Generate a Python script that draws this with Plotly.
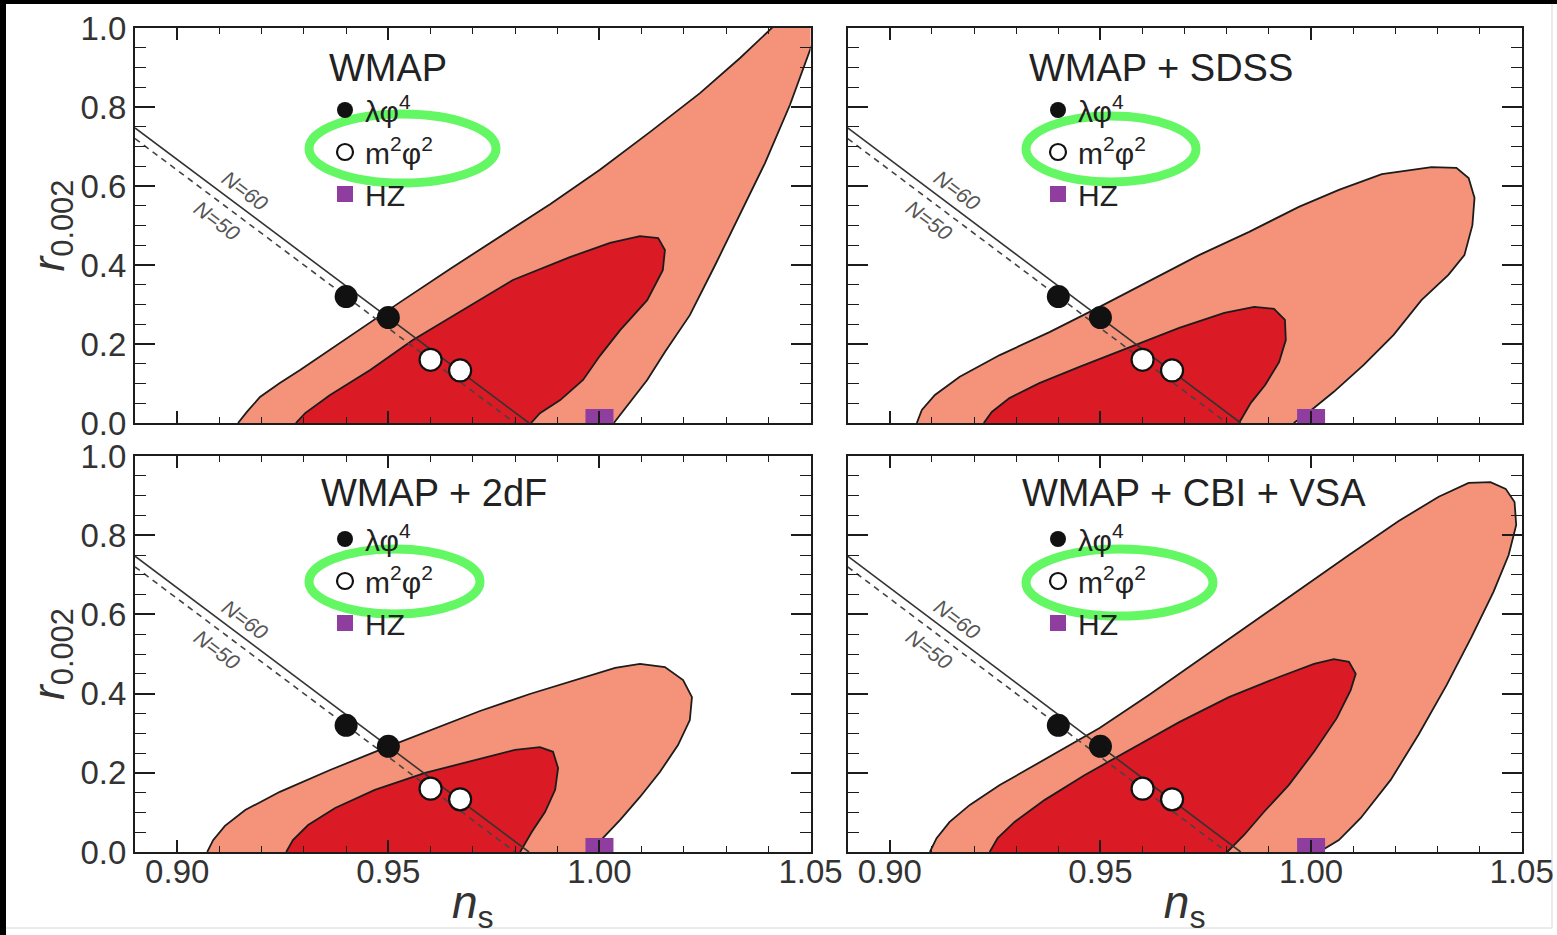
import plotly.graph_objects as go

W, H = 1557, 935

# ---------------- data ----------------
panel_titles = ["WMAP", "WMAP + SDSS", "WMAP + 2dF", "WMAP + CBI + VSA"]

x_tick_vals = [0.90, 0.95, 1.00, 1.05]
x_tick_text = ["0.90", "0.95", "1.00", "1.05"]
y_tick_vals = [0.0, 0.2, 0.4, 0.6, 0.8, 1.0]
y_tick_text = ["0.0", "0.2", "0.4", "0.6", "0.8", "1.0"]

# model predictions (N = 50, N = 60)
lam_ns = [0.940, 0.950]
lam_r = [0.320, 0.267]
m2_ns = [0.960, 0.967]
m2_r = [0.160, 0.133]
hz_ns = [1.000]
hz_r = [0.000]
n60_ns = [0.890, 0.9833]
n60_r = [0.747, 0.000]
n50_ns = [0.890, 0.980]
n50_r = [0.720, 0.000]

# ---- WMAP ----
wmap_95_ns = [0.9144, 0.9165, 0.9196, 0.9243, 0.9291, 0.9409, 0.9528, 0.9646, 0.9764, 0.9883,
              1.0001, 1.0120, 1.0238, 1.0333, 1.0416, 1.0520, 1.0503, 1.0451, 1.0392, 1.0333,
              1.0274, 1.0214, 1.0155, 1.0113, 1.0072, 1.0034]
wmap_95_r = [0.000, 0.028, 0.066, 0.101, 0.134, 0.220, 0.306, 0.390, 0.471, 0.554,
             0.641, 0.737, 0.835, 0.924, 1.008, 1.080, 0.957, 0.805, 0.658, 0.527,
             0.400, 0.273, 0.180, 0.109, 0.053, 0.000]
wmap_68_ns = [0.9281, 0.9303, 0.9362, 0.9457, 0.9558, 0.9670, 0.9795, 0.9930, 1.0025, 1.0096,
              1.0139, 1.0155, 1.0150, 1.0113, 1.0049, 1.0001, 0.9961, 0.9907, 0.9859, 0.9838]
wmap_68_r = [0.000, 0.025, 0.071, 0.134, 0.210, 0.281, 0.362, 0.420, 0.456, 0.473,
             0.468, 0.438, 0.387, 0.311, 0.235, 0.170, 0.109, 0.058, 0.025, 0.000]

# ---- WMAP + SDSS ----
sdss_95_ns = [0.9064, 0.9076, 0.9107, 0.9166, 0.9261, 0.9379, 0.9498, 0.9576, 0.9734, 0.9853,
              0.9971, 1.0066, 1.0168, 1.0286, 1.0345, 1.0374, 1.0388, 1.0383, 1.0364, 1.0326,
              1.0262, 1.0196, 1.0125, 1.0054, 0.9995, 0.9959]
sdss_95_r = [0.000, 0.033, 0.071, 0.117, 0.172, 0.230, 0.294, 0.337, 0.425, 0.484,
             0.547, 0.590, 0.630, 0.648, 0.646, 0.620, 0.570, 0.501, 0.425, 0.375,
             0.311, 0.223, 0.147, 0.079, 0.028, 0.000]
sdss_68_ns = [0.9223, 0.9242, 0.9284, 0.9355, 0.9450, 0.9569, 0.9687, 0.9794, 0.9865, 0.9912,
              0.9938, 0.9940, 0.9924, 0.9891, 0.9857, 0.9829]
sdss_68_r = [0.000, 0.028, 0.063, 0.101, 0.142, 0.192, 0.241, 0.279, 0.294, 0.289,
             0.261, 0.210, 0.154, 0.096, 0.051, 0.000]

# ---- WMAP + 2dF ----
twodf_95_ns = [0.9071, 0.9085, 0.9113, 0.9161, 0.9243, 0.9362, 0.9480, 0.9599, 0.9717, 0.9835,
               0.9954, 1.0037, 1.0096, 1.0155, 1.0198, 1.0219, 1.0214, 1.0186, 1.0143, 1.0096,
               1.0049, 1.0008, 0.9982]
twodf_95_r = [0.000, 0.030, 0.066, 0.106, 0.152, 0.207, 0.258, 0.308, 0.356, 0.399,
              0.439, 0.465, 0.475, 0.467, 0.434, 0.391, 0.333, 0.270, 0.202, 0.139,
              0.081, 0.035, 0.000]
twodf_68_ns = [0.9258, 0.9274, 0.9310, 0.9374, 0.9468, 0.9587, 0.9705, 0.9800, 0.9859, 0.9890,
               0.9902, 0.9895, 0.9871, 0.9840, 0.9812]
twodf_68_r = [0.000, 0.030, 0.068, 0.111, 0.157, 0.200, 0.232, 0.258, 0.265, 0.253,
              0.212, 0.157, 0.101, 0.051, 0.000]

# ---- WMAP + CBI + VSA ----
cbi_95_ns = [0.9095, 0.9111, 0.9142, 0.9190, 0.9261, 0.9379, 0.9498, 0.9616, 0.9734, 0.9853,
             0.9971, 1.0090, 1.0208, 1.0303, 1.0374, 1.0426, 1.0462, 1.0483, 1.0487, 1.0469,
             1.0433, 1.0381, 1.0322, 1.0255, 1.0189, 1.0118, 1.0066, 1.0019]
cbi_95_r = [0.000, 0.035, 0.076, 0.119, 0.169, 0.240, 0.313, 0.397, 0.485, 0.573,
            0.662, 0.750, 0.836, 0.897, 0.932, 0.934, 0.917, 0.884, 0.826, 0.750,
            0.657, 0.543, 0.422, 0.296, 0.182, 0.086, 0.030, 0.000]
cbi_68_ns = [0.9237, 0.9256, 0.9296, 0.9367, 0.9462, 0.9569, 0.9687, 0.9805, 0.9924, 1.0007,
             1.0054, 1.0090, 1.0106, 1.0094, 1.0061, 1.0007, 0.9947, 0.9888, 0.9841, 0.9801]
cbi_68_r = [0.000, 0.035, 0.076, 0.131, 0.194, 0.258, 0.328, 0.391, 0.442, 0.475,
            0.487, 0.480, 0.450, 0.409, 0.338, 0.253, 0.169, 0.101, 0.043, 0.000]

contours_95 = [(wmap_95_ns, wmap_95_r), (sdss_95_ns, sdss_95_r),
               (twodf_95_ns, twodf_95_r), (cbi_95_ns, cbi_95_r)]
contours_68 = [(wmap_68_ns, wmap_68_r), (sdss_68_ns, sdss_68_r),
               (twodf_68_ns, twodf_68_r), (cbi_68_ns, cbi_68_r)]

# ---------------- styling ----------------
FONT = "Liberation Sans, Arial, Helvetica, sans-serif"
C95 = "#F4937A"
C68 = "#DA1A24"
PURPLE = "#8F3E9F"
GREEN = "#63F763"
INK = "#1c1c1c"


def pxx(p):
    return p / W


def pxy(p):
    return 1 - p / H


# panel pixel boxes: (left, right, top, bottom)
boxes = [(135, 810.6, 28, 423), (847.7, 1521.7, 28, 423),
         (135, 810.6, 456, 852), (847.7, 1521.7, 456, 852)]

fig = go.Figure()

for i in range(4):
    k = "" if i == 0 else str(i + 1)
    xa, ya = "x" + k, "y" + k
    leg = "legend" + k
    ns95, r95 = contours_95[i]
    ns68, r68 = contours_68[i]
    fig.add_trace(go.Scatter(x=ns95, y=r95, mode="lines", fill="toself", fillcolor=C95,
                             line=dict(color=INK, width=1.8), xaxis=xa, yaxis=ya,
                             showlegend=False, hoverinfo="skip"))
    fig.add_trace(go.Scatter(x=ns68, y=r68, mode="lines", fill="toself", fillcolor=C68,
                             line=dict(color=INK, width=1.8), xaxis=xa, yaxis=ya,
                             showlegend=False, hoverinfo="skip"))
    fig.add_trace(go.Scatter(x=n60_ns, y=n60_r, mode="lines", line=dict(color="#333", width=1.6),
                             xaxis=xa, yaxis=ya, showlegend=False))
    fig.add_trace(go.Scatter(x=n50_ns, y=n50_r, mode="lines",
                             line=dict(color="#444", width=1.6, dash="6px,5px"),
                             xaxis=xa, yaxis=ya, showlegend=False))
    fig.add_trace(go.Scatter(x=lam_ns, y=lam_r, mode="markers", name="λφ<sup>4</sup>",
                             marker=dict(size=23, color="#111", line=dict(width=0)),
                             xaxis=xa, yaxis=ya, legend=leg, legendrank=1))
    fig.add_trace(go.Scatter(x=m2_ns, y=m2_r, mode="markers", name="m<sup>2</sup>φ<sup>2</sup>",
                             marker=dict(size=22, color="white", line=dict(width=2.2, color="#111")),
                             xaxis=xa, yaxis=ya, legend=leg, legendrank=2))
    fig.add_trace(go.Scatter(x=hz_ns, y=hz_r, mode="markers", name="HZ", cliponaxis=True,
                             marker=dict(size=28, symbol="square", color=PURPLE, line=dict(width=0)),
                             xaxis=xa, yaxis=ya, legend=leg, legendrank=3))

axis_common = dict(showline=True, linecolor=INK, linewidth=2, mirror="allticks",
                   ticks="inside", tickcolor=INK, showgrid=False, zeroline=False,
                   automargin=False,
                   tickfont=dict(family=FONT, size=33, color="#333"))

layout = dict(template="none", width=W, height=H, margin=dict(l=0, r=0, t=0, b=0, pad=0),
              autosize=False,
              paper_bgcolor="white", plot_bgcolor="white",
              font=dict(family=FONT, color="#222"))

for i, (l, r, t, b) in enumerate(boxes):
    k = "" if i == 0 else str(i + 1)
    bottom_row = i >= 2
    left_col = i % 2 == 0
    xax = dict(axis_common, domain=[pxx(l), pxx(r)], range=[0.89, 1.05], anchor="y" + k,
               tickmode="array", tickvals=x_tick_vals, ticktext=x_tick_text,
               ticklen=12, tickwidth=1.6, showticklabels=bottom_row, ticklabelstandoff=-11,
               minor=dict(tickmode="linear", tick0=0.9, dtick=0.01, ticks="inside", ticklen=6,
                          tickwidth=1.3, tickcolor=INK, showgrid=False))
    if bottom_row:
        xax["title"] = dict(text="<i>n</i><sub>s</sub>", font=dict(family=FONT, size=46, color="#333"),
                            standoff=0)
    yax = dict(axis_common, domain=[pxy(b), pxy(t)], range=[0, 1], anchor="x" + k,
               tickmode="array", tickvals=y_tick_vals, ticktext=y_tick_text,
               ticklen=20, tickwidth=1.6, showticklabels=left_col,
               minor=dict(tickmode="linear", tick0=0, dtick=0.05, ticks="inside", ticklen=11,
                          tickwidth=1.3, tickcolor=INK, showgrid=False))
    if left_col:
        yax["title"] = dict(text="<i>r</i><sub>0.002</sub>", font=dict(family=FONT, size=44, color="#333"),
                            standoff=2)
    layout["xaxis" + k] = xax
    layout["yaxis" + k] = yax

# legends inside each panel
legend_pos = [(325, 84), (1038, 84), (325, 513), (1038, 513)]
for i, (lx, ly) in enumerate(legend_pos):
    k = "" if i == 0 else str(i + 1)
    layout["legend" + k] = dict(x=pxx(lx), y=pxy(ly), xanchor="left", yanchor="top",
                                bgcolor="rgba(0,0,0,0)", borderwidth=0,
                                font=dict(family=FONT, size=30, color="#222"),
                                traceorder="normal", tracegroupgap=0)

fig.update_layout(**layout)

# panel titles
title_pos = [(388, 68), (1161, 68), (434, 493), (1194, 493)]
for txt, (tx, ty) in zip(panel_titles, title_pos):
    fig.add_annotation(x=pxx(tx), y=pxy(ty), xref="paper", yref="paper", text=txt,
                       showarrow=False, xanchor="center", yanchor="middle",
                       font=dict(family=FONT, size=38, color="#222"))

# N=60 / N=50 labels along the lines
for dx, dy in [(0, 0), (712.7, 0), (0, 429), (712.7, 429)]:
    for txt, (tx, ty) in [("N=60", (245, 190)), ("N=50", (217, 220))]:
        fig.add_annotation(x=pxx(tx + dx), y=pxy(ty + dy), xref="paper", yref="paper",
                           text="<i>" + txt + "</i>", showarrow=False, textangle=36.8,
                           xanchor="center", yanchor="middle",
                           font=dict(family=FONT, size=21, color="#555"))

# green highlight ellipses
for (x0, x1, y0, y1) in [(309, 496, 114, 183), (1026, 1196, 116, 182),
                         (309, 480, 549, 614), (1026, 1213, 549, 616)]:
    fig.add_shape(type="circle", xref="paper", yref="paper",
                  x0=pxx(x0), x1=pxx(x1), y0=pxy(y1), y1=pxy(y0),
                  line=dict(color=GREEN, width=9), fillcolor="rgba(0,0,0,0)", layer="above")

# frame of the screenshot: black top and left bands, faint right/bottom edges
fig.add_shape(type="rect", xref="paper", yref="paper", x0=0, x1=1, y0=pxy(4), y1=1,
              fillcolor="black", line=dict(width=0), layer="above")
fig.add_shape(type="rect", xref="paper", yref="paper", x0=0, x1=pxx(6), y0=0, y1=1,
              fillcolor="black", line=dict(width=0), layer="above")
fig.add_shape(type="line", xref="paper", yref="paper", x0=pxx(1552), x1=pxx(1552), y0=pxy(928), y1=pxy(4),
              line=dict(color="#e4e4e4", width=1.5), layer="below")
fig.add_shape(type="line", xref="paper", yref="paper", x0=pxx(6), x1=pxx(1552), y0=pxy(928), y1=pxy(928),
              line=dict(color="#e4e4e4", width=1.5), layer="below")

fig.write_html("out.html", config={"displayModeBar": False},
               post_script="document.body.style.margin='0';document.body.style.overflow='hidden';")
